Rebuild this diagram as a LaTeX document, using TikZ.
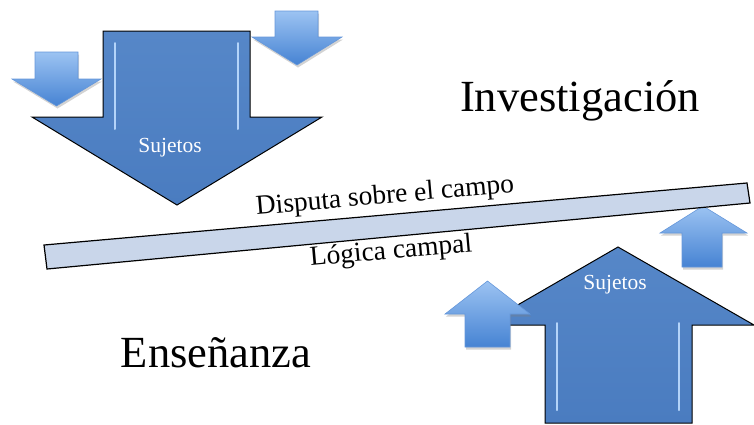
\documentclass[tikz,border=0pt]{standalone}
\usepackage{fontspec}
\setmainfont{Liberation Serif}
\usetikzlibrary{shadows}
\definecolor{bigblue}{HTML}{4A7CC0}
\definecolor{bigblueT}{HTML}{5687C8}
\definecolor{smallT}{HTML}{9CC3F2}
\definecolor{smallB}{HTML}{4683D3}
\definecolor{smallEdge}{HTML}{6597DA}
\definecolor{barfill}{HTML}{C9D6EA}
\definecolor{hilite}{HTML}{BFDDFF}
\tikzset{
  bigarrow/.style={draw=black, line width=1pt, line join=miter, top color=bigblueT, bottom color=bigblue},
  smallarrow/.style={draw=smallEdge, line width=0.6pt, top color=smallT, bottom color=smallB,
     drop shadow={opacity=0.35, shadow xshift=1pt, shadow yshift=-2.5pt}},
  hl/.style={draw=hilite, line width=2pt, line cap=round, opacity=0.9},
  barstyle/.style={draw=black, line width=1.2pt, fill=barfill},
  bigtext/.style={font=\fontsize{44.5}{48}\selectfont, inner sep=0pt},
  midtext/.style={font=\fontsize{27.5}{30}\selectfont, inner sep=0pt, rotate=5},
  suj/.style={font=\fontsize{21.5}{24}\selectfont, text=white, inner sep=0pt}
}
\begin{document}
\begin{tikzpicture}[x=1pt,y=-1pt]
\useasboundingbox (0,0) rectangle (754,424);
% big down arrow
\draw[bigarrow] (103,31) -- (250,31) -- (250,117) -- (322,117) -- (177,205) -- (32,117) -- (103,117) -- cycle;
\draw[hl] (115,43) -- (115,129);
\draw[hl] (238,43) -- (238,129);
% small top arrows
\draw[smallarrow] (35,52) -- (78,52) -- (78,79) -- (101,79) -- (56.5,106) -- (12,79) -- (35,79) -- cycle;
\draw[smallarrow] (275,11) -- (318,11) -- (318,37) -- (342,37) -- (297,65) -- (252,37) -- (275,37) -- cycle;
% big up arrow
\draw[bigarrow] (545,423) -- (692,423) -- (692,325) -- (754,325) -- (618,247) -- (483,325) -- (545,325) -- cycle;
\draw[hl] (557,323) -- (557,410);
\draw[hl] (679,323) -- (679,410);
% small up arrows
\draw[smallarrow] (465,347) -- (510,347) -- (510,314) -- (530,314) -- (487.5,281) -- (445,314) -- (465,314) -- cycle;
\draw[smallarrow] (682,267) -- (722,267) -- (722,233) -- (747,233) -- (703,206) -- (660,233) -- (682,233) -- cycle;
% bar
\draw[barstyle] (44,245) -- (747,183) -- (750,203) -- (47,269) -- cycle;
% texts
\node[bigtext] (inv) at (580,101) {Investigación};
\node[bigtext] (ens) at (216,353) {Enseñanza};
\node[midtext] (disp) at (385,197) {Disputa sobre el campo};
\node[midtext] (log) at (391,252) {Lógica campal};
\node[suj] (s1) at (170,148) {Sujetos};
\node[suj] (s2) at (615,285) {Sujetos};
\end{tikzpicture}
\end{document}
